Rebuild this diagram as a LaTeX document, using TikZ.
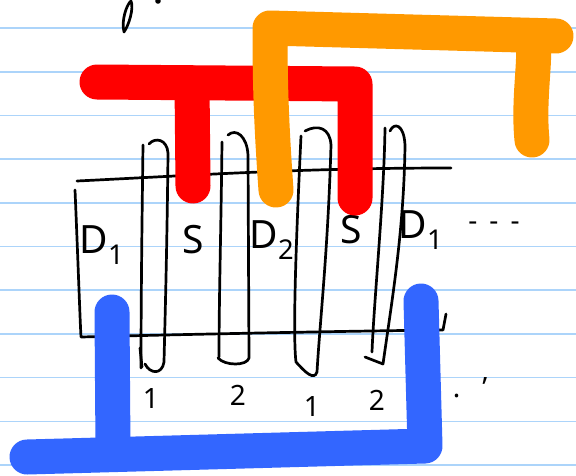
\documentclass[tikz,border=0pt]{standalone}
\usepackage{fontspec}
\setmainfont{Noto Sans}
\definecolor{paper}{RGB}{172,212,250}
\definecolor{myred}{RGB}{255,0,0}
\definecolor{myorange}{RGB}{255,153,0}
\definecolor{myblue}{RGB}{51,102,255}
\tikzset{
  paperline/.style={draw=paper, line width=1.6pt},
  ink/.style={draw=black, line width=2.7pt, line cap=round, line join=round},
  marker/.style={line width=35pt, line cap=round, line join=round},
  lbl/.style={font=\fontsize{39}{42}\selectfont, inner sep=0pt},
  num/.style={font=\fontsize{28}{30}\selectfont\bfseries, inner sep=0pt},
}
\begin{document}
\begin{tikzpicture}[x=1pt,y=-1pt]
\useasboundingbox (0,0) rectangle (576,475);
\fill[white] (0,0) rectangle (576,475);
% ruled paper
\foreach \k in {0,...,10} \draw[paperline] (0,{28+43.7*\k}) -- (576,{28+43.7*\k});

% partial letter at top
\draw[ink] (124,32) .. controls (121,20) and (127,4) .. (131,1) .. controls (134,8) and (129,25) .. (124,32);
\fill (158,1) circle (2.8);

% channel box
\draw[ink] (77,181) .. controls (200,175) and (300,168) .. (451,168);
\draw[ink] (75,190) .. controls (78,260) and (80,320) .. (81,337) .. controls (200,334) and (350,331) .. (443,330) -- (446,314);

% finger loops
\draw[ink] (143,145) .. controls (142,220) and (141,300) .. (141,368);
\draw[ink] (149,144) .. controls (155,137) and (167,139) .. (168,153) .. controls (167,250) and (165,320) .. (164,362) .. controls (162,375) and (150,374) .. (145,364);
\draw[ink] (140,348) -- (142,367);

\draw[ink] (228,135) .. controls (236,128) and (247,136) .. (248,155) -- (249,358) .. controls (247,366) and (225,366) .. (218,358);
\draw[ink] (222,142) .. controls (221,230) and (219,300) .. (219,357);

\draw[ink] (305,131) .. controls (318,124) and (330,128) .. (331,145) .. controls (328,250) and (320,320) .. (317,372) .. controls (314,381) and (305,372) .. (296,362) .. controls (292,330) and (298,200) .. (301,136);

\draw[ink] (385,128) .. controls (384,200) and (374,300) .. (372,352);
\draw[ink] (390,131) .. controls (394,122) and (404,124) .. (405,145) .. controls (404,230) and (392,300) .. (383,364) -- (365,357);

% labels
\node[lbl] (d1a) at (102,245) {D\textsubscript{1}};
\node[lbl] (s1) at (193,240) {S};
\node[lbl] (d2) at (272,240) {D\textsubscript{2}};
\node[lbl] (s2) at (351,230) {S};
\node[lbl] (d1b) at (421,230) {D\textsubscript{1}};
\node[num] (dots) at (494,226) {-\hspace{12pt}-\hspace{12pt}-};
\node[num] (n1a) at (151,398) {1};
\node[num] (n2a) at (238,395) {2};
\node[num] (n1b) at (312,406) {1};
\node[num] (n2b) at (377,400) {2};
\node[num] (dots2) at (470,388) {.\hspace{22pt}'};

% coloured markers
\draw[marker, myblue] (27,457) -- (425,446) -- (421,301);
\draw[marker, myblue] (112,312) -- (113,450);
\draw[marker, myred] (97,82) -- (355,84) -- (355,198);
\draw[marker, myred] (192,83) -- (193,186);
\draw[marker, myorange] (276,190) .. controls (271,120) and (270,80) .. (270,28) -- (556,36);
\draw[marker, myorange] (533,40) .. controls (536,60) and (528,100) .. (532,140);
\end{tikzpicture}
\end{document}
